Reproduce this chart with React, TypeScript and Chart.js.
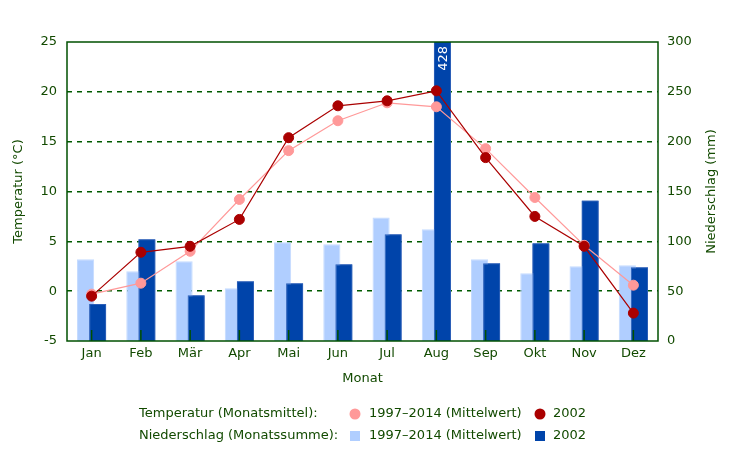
import React, { useEffect, useRef } from "react";
import { Chart, registerables } from "chart.js";

Chart.register(...registerables);

const months = ["Jan", "Feb", "Mär", "Apr", "Mai", "Jun", "Jul", "Aug", "Sep", "Okt", "Nov", "Dez"];
const tempAvg = [-0.3, 0.8, 4.0, 9.2, 14.1, 17.1, 18.9, 18.5, 14.3, 9.4, 4.6, 0.6];
const temp2002 = [-0.5, 3.9, 4.5, 7.2, 15.4, 18.6, 19.1, 20.1, 13.4, 7.5, 4.5, -2.2];
const precipAvg = [82, 70, 80, 53, 99, 97, 124, 112, 82, 68, 75, 76];
const precip2002 = [37, 102, 46, 60, 58, 77, 107, 428, 78, 98, 141, 74];
const tempTicks = [-5, 0, 5, 10, 15, 20, 25];
const precipTicks = [0, 50, 100, 150, 200, 250, 300];

const GREEN = "#005000";
const GRID = "#005a00";
const TEXT = "#124a00";
const PINK = "#ff9999";
const RED = "#aa0000";
const LIGHT_BLUE = "#b0ceff";
const DARK_BLUE = "#0044aa";

// frame / tick marks / label of the cut bar / right title / legend
const decorPlugin = {
  id: "decor",
  afterDatasetDraw(chart: any, args: any) {
    // dark bars must sit over the light ones
    if (args.index !== 2) return;
    const { ctx, chartArea } = chart;
    ctx.save();
    ctx.beginPath();
    ctx.rect(chartArea.left, chartArea.top, chartArea.right - chartArea.left, chartArea.bottom - chartArea.top);
    ctx.clip();
    chart.getDatasetMeta(3).data.forEach((el: any) => el.draw(ctx));
    ctx.restore();
  },
  afterDatasetsDraw(chart: any) {
    const { ctx, chartArea, scales } = chart;
    ctx.save();
    // little ticks at the bottom
    ctx.strokeStyle = GREEN;
    ctx.lineWidth = 1.5;
    months.forEach((_, i) => {
      const x = scales.x.getPixelForTick(i);
      ctx.beginPath();
      ctx.moveTo(x, chartArea.bottom);
      ctx.lineTo(x, chartArea.bottom - 11);
      ctx.stroke();
    });
    // frame
    ctx.strokeRect(chartArea.left, chartArea.top, chartArea.right - chartArea.left, chartArea.bottom - chartArea.top);
    // value of the bar that runs off the chart
    const meta = chart.getDatasetMeta(3);
    precip2002.forEach((v, i) => {
      if (v <= scales.yP.max) return;
      const el = meta.data[i];
      ctx.save();
      ctx.translate(el.x, chartArea.top + 4);
      ctx.rotate(-Math.PI / 2);
      ctx.fillStyle = "#ffffff";
      ctx.font = "13px 'DejaVu Sans'";
      ctx.textAlign = "right";
      ctx.textBaseline = "middle";
      ctx.fillText(String(v), 0, 1);
      ctx.restore();
    });
    ctx.restore();
  },
  afterDraw(chart: any) {
    const { ctx, chartArea } = chart;
    const ds = chart.data.datasets;
    ctx.save();
    ctx.font = "13px 'DejaVu Sans'";
    ctx.fillStyle = TEXT;
    ctx.textBaseline = "middle";

    // right axis title, reading bottom to top
    ctx.save();
    ctx.translate(712, (chartArea.top + chartArea.bottom) / 2);
    ctx.rotate(-Math.PI / 2);
    ctx.textAlign = "center";
    ctx.fillText("Niederschlag (mm)", 0, 0);
    ctx.restore();

    const rows = [
      { y: 414, label: "Temperatur (Monatsmittel):", a: ds[0], b: ds[1], round: true },
      { y: 436, label: "Niederschlag (Monatssumme):", a: ds[2], b: ds[3], round: false },
    ];
    rows.forEach((r) => {
      ctx.fillStyle = TEXT;
      ctx.fillText(r.label, 139, r.y);
      ctx.fillText(r.a.label, 369, r.y);
      ctx.fillText(r.b.label, 553, r.y);
      [
        { x: 355, c: r.round ? r.a.pointBackgroundColor : r.a.backgroundColor },
        { x: 540, c: r.round ? r.b.pointBackgroundColor : r.b.backgroundColor },
      ].forEach((m) => {
        ctx.fillStyle = m.c;
        if (r.round) {
          ctx.beginPath();
          ctx.arc(m.x, r.y, 5.5, 0, Math.PI * 2);
          ctx.fill();
        } else {
          ctx.fillRect(m.x - 5, r.y - 5, 10, 10);
        }
      });
    });
    ctx.restore();
  },
};

const ClimateChart: React.FC = () => {
  const chartRef = useRef<HTMLCanvasElement | null>(null);
  const chartInstance = useRef<Chart | null>(null);

  useEffect(() => {
    document.body.style.margin = "0";
    if (!chartRef.current) return;
    const ctx = chartRef.current.getContext("2d");
    if (!ctx) return;
    if (chartInstance.current) chartInstance.current.destroy();

    Chart.defaults.font.family = "'DejaVu Sans'";
    Chart.defaults.font.size = 13;
    Chart.defaults.color = TEXT;

    chartInstance.current = new Chart(ctx, {
      type: "bar",
      data: {
        labels: months,
        datasets: [
          {
            type: "line",
            label: "1997–2014 (Mittelwert)",
            data: tempAvg,
            yAxisID: "yT",
            borderColor: PINK,
            borderWidth: 1.2,
            pointBackgroundColor: PINK,
            pointBorderColor: PINK,
            pointRadius: 5,
            pointBorderWidth: 1,
            order: 1,
          },
          {
            type: "line",
            label: "2002",
            data: temp2002,
            yAxisID: "yT",
            borderColor: RED,
            borderWidth: 1.2,
            pointBackgroundColor: RED,
            pointBorderColor: RED,
            pointRadius: 5,
            pointBorderWidth: 1,
            order: 0,
          },
          {
            type: "bar",
            label: "1997–2014 (Mittelwert)",
            data: precipAvg,
            yAxisID: "yP",
            backgroundColor: LIGHT_BLUE,
            borderColor: "#c4dbff",
            borderWidth: 1,
            categoryPercentage: 0.49,
            barPercentage: 1.42,
            order: 2,
          },
          {
            type: "bar",
            label: "2002",
            data: precip2002,
            yAxisID: "yP",
            backgroundColor: DARK_BLUE,
            borderColor: "#2c5fb8",
            borderWidth: 1,
            categoryPercentage: 0.49,
            barPercentage: 1.42,
            order: 3,
          },
        ] as any,
      },
      options: {
        responsive: true,
        maintainAspectRatio: false,
        animation: false,
        layout: { padding: { top: 42, left: 0, right: 0, bottom: 72 } },
        plugins: {
          legend: { display: false },
          tooltip: { enabled: false },
        },
        scales: {
          x: {
            grid: { display: false, drawTicks: false },
            border: { display: false },
            ticks: { color: TEXT, padding: 5 },
            title: { display: true, text: "Monat", color: TEXT, padding: { top: 0, bottom: 3 } },
            afterFit: (s: any) => {
              s.height = 48;
            },
          },
          yT: {
            position: "left",
            min: -5,
            max: 25,
            afterBuildTicks: (s: any) => {
              s.ticks = tempTicks.map((v) => ({ value: v }));
            },
            grid: {
              color: (c: any) => (c.tick && (c.tick.value === -5 || c.tick.value === 25) ? "rgba(0,0,0,0)" : GRID),
              lineWidth: 1.5,
              drawTicks: false,
            },
            border: { display: false, dash: [5, 5] },
            ticks: { color: TEXT, padding: 10 },
            title: { display: true, text: "Temperatur (°C)", color: TEXT, padding: { top: 11, bottom: 0 } },
            afterFit: (s: any) => {
              s.width = 67;
            },
          },
          yP: {
            position: "right",
            min: 0,
            max: 300,
            afterBuildTicks: (s: any) => {
              s.ticks = precipTicks.map((v) => ({ value: v }));
            },
            grid: { display: false, drawTicks: false },
            border: { display: false },
            ticks: { color: TEXT, padding: 9 },
            afterFit: (s: any) => {
              s.width = 75;
            },
          },
        },
      } as any,
      plugins: [decorPlugin],
    });

    return () => {
      if (chartInstance.current) {
        chartInstance.current.destroy();
        chartInstance.current = null;
      }
    };
  }, []);

  return (
    <div style={{ position: "relative", width: 733, height: 461 }}>
      <canvas ref={chartRef}></canvas>
    </div>
  );
};

export default function App() {
  return <ClimateChart />;
}
